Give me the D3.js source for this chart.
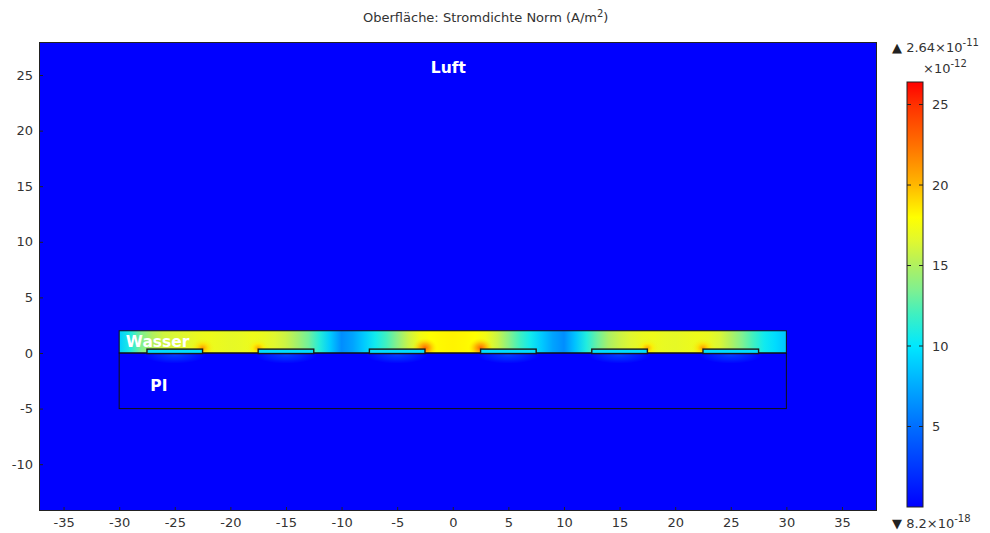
<!DOCTYPE html>
<html>
<head>
<meta charset="utf-8">
<script src="https://cdn.jsdelivr.net/npm/d3@7"></script>
<style>
  html, body { margin: 0; padding: 0; background: #fff; }
  svg { display: block; }
  text { font-family: "DejaVu Sans", sans-serif; }
</style>
</head>
<body>
<svg id="chart" width="990" height="533"></svg>
<script>
// Current density norm |J| on a cross-section: air, water film, PI substrate, six electrodes.
// Values in units of 1e-12 A/m^2.

const xTicks = [-35, -30, -25, -20, -15, -10, -5, 0, 5, 10, 15, 20, 25, 30, 35];
const yTicks = [-10, -5, 0, 5, 10, 15, 20, 25];
const colorbarTicks = [5, 10, 15, 20, 25];

// Domain geometry (mm)
const waterBox = { x0: -30, x1: 30, y0: 0, y1: 2 };
const piBox = { x0: -30, x1: 30, y0: -5, y1: 0 };
const electrodeCenters = [-25, -15, -5, 5, 15, 25];
const electrodeHalfWidth = 2.5;
const electrodeBottom = -0.05;
const electrodeTop = 0.35;

// |J| sampled across the water film (x = -30 … 30, 1 mm apart)
const waterX = [-30, -29, -28, -27, -26, -25, -24, -23, -22, -21, -20, -19, -18, -17, -16, -15,
  -14, -13, -12, -11, -10, -9, -8, -7, -6, -5, -4, -3, -2, -1, 0, 1, 2, 3, 4, 5, 6, 7, 8, 9,
  10, 11, 12, 13, 14, 15, 16, 17, 18, 19, 20, 21, 22, 23, 24, 25, 26, 27, 28, 29, 30];
const waterJ = [9, 11, 13.5, 15, 16, 16.3, 16.6, 17, 17.2, 17, 16.8, 16.9, 17.2, 17, 16.5, 15.8,
  14.6, 13.2, 11.2, 8.8, 6.3, 7.2, 8.8, 10.5, 12, 13.8, 15.8, 17.3, 18, 18.2, 18.3, 18.2, 18, 17.3, 15.8, 13.8,
  12, 10.5, 8.8, 7.2, 6.3, 8.5, 11, 13, 14.8, 15.8, 16.5, 17, 17.2, 16.9, 16.8, 17, 17.2, 17, 16.3,
  15, 13.5, 12, 10.5, 9.5, 8.5];

// Peaks at the electrode corners facing an opposite-polarity neighbour
const hotX = [-22.5, -17.5, -2.5, 2.5, 17.5, 22.5];
const hotJ = [21, 20.5, 23, 23, 20.5, 21];

// Leakage into the PI just below each electrode
const piLeakJ = [3, 3, 3, 3, 3, 3];

// Background level (air, bulk PI) and electrode interior
const airJ = 0;
const electrodeJ = 9.5;

const jMin = 8.2e-6;   // 8.2e-18 A/m^2
const jMax = 26.4;     // 2.64e-11 A/m^2

// Rainbow colour table
const cStops = [0, 2.5, 5, 7.5, 10, 12, 13.5, 15, 16.5, 18, 20, 22.5, 25, 26.4];
const cColors = ["#0000ff", "#0038ff", "#006eff", "#00aaff", "#00e8ff", "#40f0c0", "#80f090",
  "#b0f060", "#e0f830", "#ffff00", "#ffb800", "#ff7000", "#ff3000", "#ff0000"];

const svg = d3.select("#chart");
const plot = { left: 39, right: 877, top: 42, bottom: 511 };

const x = d3.scaleLinear().domain([-37.21, 38.15]).range([plot.left, plot.right]);
const y = d3.scaleLinear().domain([-14.21, 27.97]).range([plot.bottom, plot.top]);
const color = d3.scaleLinear().domain(cStops).range(cColors).interpolate(d3.interpolateRgb).clamp(true);

const defs = svg.append("defs");

// Title
const title = svg.append("text")
  .attr("x", 363).attr("y", 21.5)
  .attr("font-size", 13).attr("fill", "#333");
title.append("tspan").text("Oberfläche: Stromdichte Norm (A/m");
title.append("tspan").attr("dy", -5).attr("font-size", 10).text("2");
title.append("tspan").attr("dy", 5).text(")");

// Clip to plot frame
defs.append("clipPath").attr("id", "plotClip").append("rect")
  .attr("x", plot.left).attr("y", plot.top)
  .attr("width", plot.right - plot.left).attr("height", plot.bottom - plot.top);

const g = svg.append("g").attr("clip-path", "url(#plotClip)");

// Air
g.append("rect")
  .attr("x", plot.left).attr("y", plot.top)
  .attr("width", plot.right - plot.left).attr("height", plot.bottom - plot.top)
  .attr("fill", color(airJ));

// PI substrate
g.append("rect")
  .attr("x", x(piBox.x0)).attr("y", y(piBox.y1))
  .attr("width", x(piBox.x1) - x(piBox.x0)).attr("height", y(piBox.y0) - y(piBox.y1))
  .attr("fill", color(airJ));

defs.append("clipPath").attr("id", "piClip").append("rect")
  .attr("x", x(piBox.x0)).attr("y", y(piBox.y1))
  .attr("width", x(piBox.x1) - x(piBox.x0)).attr("height", y(piBox.y0) - y(piBox.y1));

electrodeCenters.forEach((c, i) => {
  const id = "leak" + i;
  const rg = defs.append("radialGradient").attr("id", id);
  rg.append("stop").attr("offset", "0%").attr("stop-color", color(piLeakJ[i])).attr("stop-opacity", 0.9);
  rg.append("stop").attr("offset", "55%").attr("stop-color", color(piLeakJ[i])).attr("stop-opacity", 0.45);
  rg.append("stop").attr("offset", "100%").attr("stop-color", color(piLeakJ[i])).attr("stop-opacity", 0);
  g.append("ellipse")
    .attr("clip-path", "url(#piClip)")
    .attr("cx", x(c)).attr("cy", y(-0.2))
    .attr("rx", x(c + 2.8) - x(c)).attr("ry", y(0) - y(0.75))
    .attr("fill", `url(#${id})`);
});

// Water film: horizontal gradient through the sampled profile
const wg = defs.append("linearGradient").attr("id", "waterGrad")
  .attr("gradientUnits", "userSpaceOnUse")
  .attr("x1", x(waterBox.x0)).attr("x2", x(waterBox.x1)).attr("y1", 0).attr("y2", 0);
waterX.forEach((wx, i) => {
  wg.append("stop")
    .attr("offset", (wx - waterBox.x0) / (waterBox.x1 - waterBox.x0))
    .attr("stop-color", color(waterJ[i]));
});

defs.append("clipPath").attr("id", "waterClip").append("rect")
  .attr("x", x(waterBox.x0)).attr("y", y(waterBox.y1))
  .attr("width", x(waterBox.x1) - x(waterBox.x0)).attr("height", y(waterBox.y0) - y(waterBox.y1));

g.append("rect")
  .attr("x", x(waterBox.x0)).attr("y", y(waterBox.y1))
  .attr("width", x(waterBox.x1) - x(waterBox.x0)).attr("height", y(waterBox.y0) - y(waterBox.y1))
  .attr("fill", "url(#waterGrad)");

// Corner peaks
hotX.forEach((hx, i) => {
  const id = "hot" + i;
  const rg = defs.append("radialGradient").attr("id", id);
  rg.append("stop").attr("offset", "0%").attr("stop-color", color(hotJ[i])).attr("stop-opacity", 1);
  rg.append("stop").attr("offset", "45%").attr("stop-color", color(hotJ[i] - 2)).attr("stop-opacity", 0.7);
  rg.append("stop").attr("offset", "100%").attr("stop-color", color(hotJ[i] - 4)).attr("stop-opacity", 0);
  g.append("ellipse")
    .attr("clip-path", "url(#waterClip)")
    .attr("cx", x(hx)).attr("cy", y(electrodeTop + 0.1))
    .attr("rx", x(hx + 1.1) - x(hx)).attr("ry", y(0) - y(0.9))
    .attr("fill", `url(#${id})`);
});

// Domain outlines
g.append("rect")
  .attr("x", x(piBox.x0)).attr("y", y(piBox.y1))
  .attr("width", x(piBox.x1) - x(piBox.x0)).attr("height", y(piBox.y0) - y(piBox.y1))
  .attr("fill", "none").attr("stroke", "#111").attr("stroke-width", 1);
g.append("rect")
  .attr("x", x(waterBox.x0)).attr("y", y(waterBox.y1))
  .attr("width", x(waterBox.x1) - x(waterBox.x0)).attr("height", y(waterBox.y0) - y(waterBox.y1))
  .attr("fill", "none").attr("stroke", "#111").attr("stroke-width", 1);

// Electrodes
g.selectAll("rect.electrode").data(electrodeCenters).join("rect")
  .attr("class", "electrode")
  .attr("x", d => x(d - electrodeHalfWidth))
  .attr("y", y(electrodeTop))
  .attr("width", d => x(d + electrodeHalfWidth) - x(d - electrodeHalfWidth))
  .attr("height", y(electrodeBottom) - y(electrodeTop))
  .attr("fill", color(electrodeJ))
  .attr("stroke", "#1a1a1a").attr("stroke-width", 1.4);

// Region labels
const labelStyle = sel => sel
  .attr("font-family", "'Liberation Sans', Arial, sans-serif")
  .attr("font-weight", "bold").attr("font-size", 15.5).attr("fill", "#fff");
svg.append("text").call(labelStyle).attr("x", x(-0.4)).attr("y", y(25.2))
  .attr("text-anchor", "middle").text("Luft");
svg.append("text").call(labelStyle).attr("x", x(-29.4)).attr("y", y(0.5)).text("Wasser");
svg.append("text").call(labelStyle).attr("x", x(-27.2)).attr("y", y(-3.4)).text("PI");

// Frame
svg.append("rect")
  .attr("x", plot.left + 0.5).attr("y", plot.top + 0.5)
  .attr("width", plot.right - plot.left - 1).attr("height", plot.bottom - plot.top - 1)
  .attr("fill", "none").attr("stroke", "#222").attr("stroke-width", 1);

// Axes
const xAxis = svg.append("g").attr("transform", `translate(0,${plot.bottom})`)
  .call(d3.axisBottom(x).tickValues(xTicks).tickSize(-4).tickPadding(7).tickFormat(d3.format("d")));
const yAxis = svg.append("g").attr("transform", `translate(${plot.left},0)`)
  .call(d3.axisLeft(y).tickValues(yTicks).tickSize(-4).tickPadding(6).tickFormat(d3.format("d")));
[xAxis, yAxis].forEach(a => {
  a.select(".domain").remove();
  a.selectAll(".tick line").attr("stroke", "#222");
  a.selectAll(".tick text").attr("font-family", "'DejaVu Sans', sans-serif")
    .attr("font-size", 13).attr("fill", "#333");
});
// plain hyphen-minus in the tick labels
xAxis.selectAll(".tick text").text(d => String(d));
yAxis.selectAll(".tick text").text(d => String(d));

// Colour bar
const cb = { x0: 907, x1: 923, top: 82, bottom: 507 };
const cy = d3.scaleLinear().domain([0, jMax]).range([cb.bottom, cb.top]);
const cg = defs.append("linearGradient").attr("id", "cbGrad")
  .attr("gradientUnits", "userSpaceOnUse")
  .attr("x1", 0).attr("x2", 0).attr("y1", cb.bottom).attr("y2", cb.top);
cStops.forEach((v, i) => {
  cg.append("stop").attr("offset", v / jMax).attr("stop-color", cColors[i]);
});
svg.append("rect")
  .attr("x", cb.x0).attr("y", cb.top)
  .attr("width", cb.x1 - cb.x0).attr("height", cb.bottom - cb.top)
  .attr("fill", "url(#cbGrad)").attr("stroke", "#222").attr("stroke-width", 1);

const cbt = svg.append("g").selectAll("g").data(colorbarTicks).join("g")
  .attr("transform", d => `translate(0,${cy(d)})`);
cbt.append("line").attr("x1", cb.x0).attr("x2", cb.x0 + 4).attr("stroke", "#222");
cbt.append("line").attr("x1", cb.x1 - 4).attr("x2", cb.x1).attr("stroke", "#222");
cbt.append("text").attr("x", 932).attr("dy", "0.36em")
  .attr("font-size", 13).attr("fill", "#333").text(d => d);

// Max / min annotations
function sciLabel(xp, yp, arrow, mant, exp) {
  const t = svg.append("text").attr("x", xp).attr("y", yp).attr("font-size", 13).attr("fill", "#222");
  if (arrow) t.append("tspan").text(arrow + " ");
  t.append("tspan").attr("fill", "#333").text(mant + "×10");
  t.append("tspan").attr("dy", -6).attr("font-size", 10).attr("fill", "#333").text(exp);
  return t;
}
sciLabel(892, 52, "▲", d3.format(".3")(jMax / 10), "-11");
sciLabel(923, 73, null, "", "-12");
sciLabel(892, 528, "▼", d3.format(".2")(jMin * 1e6), "-18");
</script>
</body>
</html>
